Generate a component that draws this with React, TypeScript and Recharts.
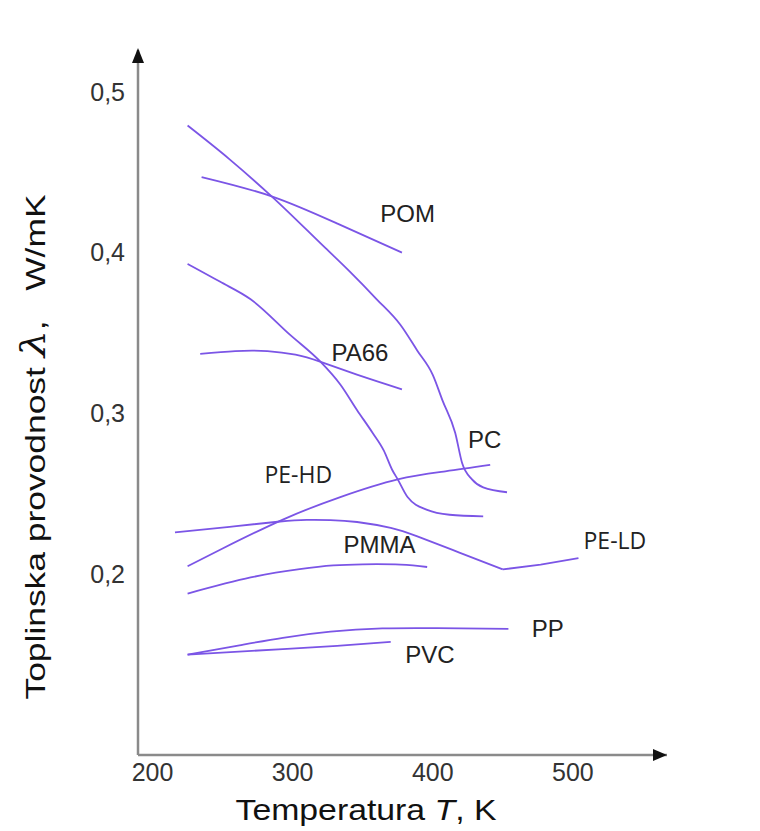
import React from 'react';
import { LineChart, Line, XAxis, YAxis, ReferenceDot, Label } from 'recharts';

// Temperature T (K) and thermal conductivity k (W/mK)
const pcData = [
  { t: 225, k: 0.479 }, { t: 255, k: 0.458 }, { t: 285, k: 0.435 }, { t: 322, k: 0.404 },
  { t: 341, k: 0.388 }, { t: 360, k: 0.371 }, { t: 377, k: 0.355 }, { t: 389, k: 0.339 },
  { t: 400, k: 0.324 }, { t: 407, k: 0.308 }, { t: 416, k: 0.288 }, { t: 421, k: 0.269 },
  { t: 428, k: 0.259 }, { t: 436, k: 0.254 }, { t: 453, k: 0.251 },
];
const pomData = [
  { t: 235, k: 0.447 }, { t: 285, k: 0.435 }, { t: 332, k: 0.418 }, { t: 378, k: 0.4 },
];
const steepData = [
  { t: 225, k: 0.393 }, { t: 248, k: 0.382 }, { t: 270, k: 0.371 }, { t: 298, k: 0.349 },
  { t: 320, k: 0.332 }, { t: 334, k: 0.318 }, { t: 346, k: 0.302 }, { t: 357, k: 0.288 },
  { t: 365, k: 0.277 }, { t: 371, k: 0.265 }, { t: 375, k: 0.259 }, { t: 382, k: 0.248 },
  { t: 396, k: 0.24 }, { t: 412, k: 0.237 }, { t: 436, k: 0.236 },
];
const pa66Data = [
  { t: 234, k: 0.337 }, { t: 259, k: 0.3388 }, { t: 282, k: 0.3388 }, { t: 302, k: 0.3365 },
  { t: 320, k: 0.332 }, { t: 348, k: 0.3235 }, { t: 378, k: 0.315 },
];
const pehdData = [
  { t: 225, k: 0.205 }, { t: 250, k: 0.216 }, { t: 293, k: 0.234 }, { t: 334, k: 0.248 },
  { t: 375, k: 0.259 }, { t: 409, k: 0.264 }, { t: 441, k: 0.268 },
];
const peldData = [
  { t: 216, k: 0.226 }, { t: 255, k: 0.2295 }, { t: 291, k: 0.2328 }, { t: 310, k: 0.2338 },
  { t: 327, k: 0.2337 }, { t: 346, k: 0.2325 }, { t: 370, k: 0.2288 }, { t: 389, k: 0.2235 },
  { t: 419, k: 0.2135 }, { t: 450, k: 0.203 },
];
const peldTail = [
  { t: 450, k: 0.203 }, { t: 477, k: 0.206 }, { t: 504, k: 0.21 },
];
const pmmaData = [
  { t: 225, k: 0.188 }, { t: 270, k: 0.198 }, { t: 305, k: 0.2032 }, { t: 329, k: 0.2055 },
  { t: 350, k: 0.2062 }, { t: 377, k: 0.206 }, { t: 396, k: 0.2045 },
];
const ppData = [
  { t: 225, k: 0.15 }, { t: 262, k: 0.1558 }, { t: 293, k: 0.1605 }, { t: 327, k: 0.1643 },
  { t: 364, k: 0.1663 }, { t: 403, k: 0.1665 }, { t: 454, k: 0.166 },
];
const pvcData = [
  { t: 225, k: 0.15 }, { t: 293, k: 0.1535 }, { t: 334, k: 0.1556 }, { t: 370, k: 0.158 },
];

const tTicks = [200, 300, 400, 500];
const kTicks = [0.2, 0.3, 0.4, 0.5];

// curve annotations (label text and its anchor in data units)
const labelNames = ['POM', 'PA66', 'PC', 'PE-HD', 'PMMA', 'PE-LD', 'PP', 'PVC'];
const labelT = [382, 348, 437, 304, 362, 530, 482, 398];
const labelK = [0.4246, 0.3376, 0.2835, 0.2617, 0.2182, 0.2206, 0.1665, 0.1504];

const T_MIN = 189.6;
const T_MAX = 567.2;
const K_MIN = 0.0876;
const K_MAX = 0.526;

const LINE = '#7b55e6';
const AXIS = '#8a8a8a';

const series = [
  { name: 'PC', data: pcData, type: 'monotone' },
  { name: 'POM', data: pomData, type: 'natural' },
  { name: 'steep', data: steepData, type: 'monotone' },
  { name: 'PA66', data: pa66Data, type: 'natural' },
  { name: 'PE-HD', data: pehdData, type: 'natural' },
  { name: 'PE-LD', data: peldData, type: 'natural' },
  { name: 'PE-LD-tail', data: peldTail, type: 'linear' },
  { name: 'PMMA', data: pmmaData, type: 'natural' },
  { name: 'PP', data: ppData, type: 'natural' },
  { name: 'PVC', data: pvcData, type: 'natural' },
];

const ArrowRight = (props: any) => {
  const { cx, cy } = props;
  return <polygon points={`${cx - 14},${cy - 6} ${cx},${cy} ${cx - 14},${cy + 6}`} fill="#111" />;
};
const ArrowUp = (props: any) => {
  const { cx, cy } = props;
  return <polygon points={`${cx - 6},${cy + 13} ${cx},${cy - 2} ${cx + 6},${cy + 13}`} fill="#111" />;
};

const SANS = 'Liberation Sans, Arial, sans-serif';

export default function App() {
  return (
    <div style={{ position: 'absolute', left: 0, top: 0, width: 760, height: 831, background: '#fff' }}>
      <LineChart width={760} height={831} margin={{ top: 50, right: 93, bottom: 0, left: 0 }}>
        <XAxis
          type="number"
          dataKey="t"
          domain={[T_MIN, T_MAX]}
          allowDataOverflow
          ticks={tTicks}
          tickLine={false}
          height={76}
          axisLine={{ stroke: AXIS, strokeWidth: 2.5 }}
          tick={{ fill: '#333', fontSize: 25, fontFamily: SANS }}
        >
          <Label
            content={() => (
              <text
                x={366}
                y={820}
                textAnchor="middle"
                fontSize={30}
                fill="#111"
                fontFamily={SANS}
                textLength={261}
                lengthAdjust="spacingAndGlyphs"
              >
                Temperatura <tspan fontStyle="italic">T</tspan>, K
              </text>
            )}
          />
        </XAxis>
        <YAxis
          type="number"
          domain={[K_MIN, K_MAX]}
          allowDataOverflow
          ticks={kTicks}
          tickLine={false}
          tickMargin={7}
          width={138}
          axisLine={{ stroke: AXIS, strokeWidth: 2.5 }}
          tickFormatter={(v: number) => v.toFixed(1).replace('.', ',')}
          tick={{ fill: '#333', fontSize: 25, fontFamily: SANS }}
        >
          <Label
            content={() => (
              <text
                transform="translate(45,447) rotate(-90)"
                textAnchor="middle"
                fontSize={28}
                fill="#111"
                fontFamily={SANS}
                textLength={505}
                lengthAdjust="spacingAndGlyphs"
              >
                Toplinska provodnost{' '}
                <tspan fontFamily="DejaVu Serif, serif" fontStyle="italic" fontSize={34}>λ</tspan>
                ,{'\u00a0\u00a0\u00a0'}W/mK
              </text>
            )}
          />
        </YAxis>
        {series.map((s) => (
          <Line
            key={s.name}
            data={s.data}
            dataKey="k"
            type={s.type as any}
            stroke={LINE}
            strokeWidth={1.8}
            dot={false}
            activeDot={false}
            isAnimationActive={false}
          />
        ))}
        {labelNames.map((n, i) => (
          <ReferenceDot
            key={n}
            x={labelT[i]}
            y={labelK[i]}
            r={0}
            ifOverflow="visible"
            fill="none"
            stroke="none"
            label={{
              value: n,
              position: 'center',
              fill: '#222',
              fontSize: n === 'PE-HD' || n === 'PE-LD' ? 23 : 24,
              fontFamily: n === 'PE-HD' || n === 'PE-LD' ? 'Open Sans, sans-serif' : SANS,
            }}
          />
        ))}
        <ReferenceDot x={T_MAX} y={K_MIN} ifOverflow="visible" shape={ArrowRight} />
        <ReferenceDot x={T_MIN} y={K_MAX} ifOverflow="visible" shape={ArrowUp} />
      </LineChart>
    </div>
  );
}
